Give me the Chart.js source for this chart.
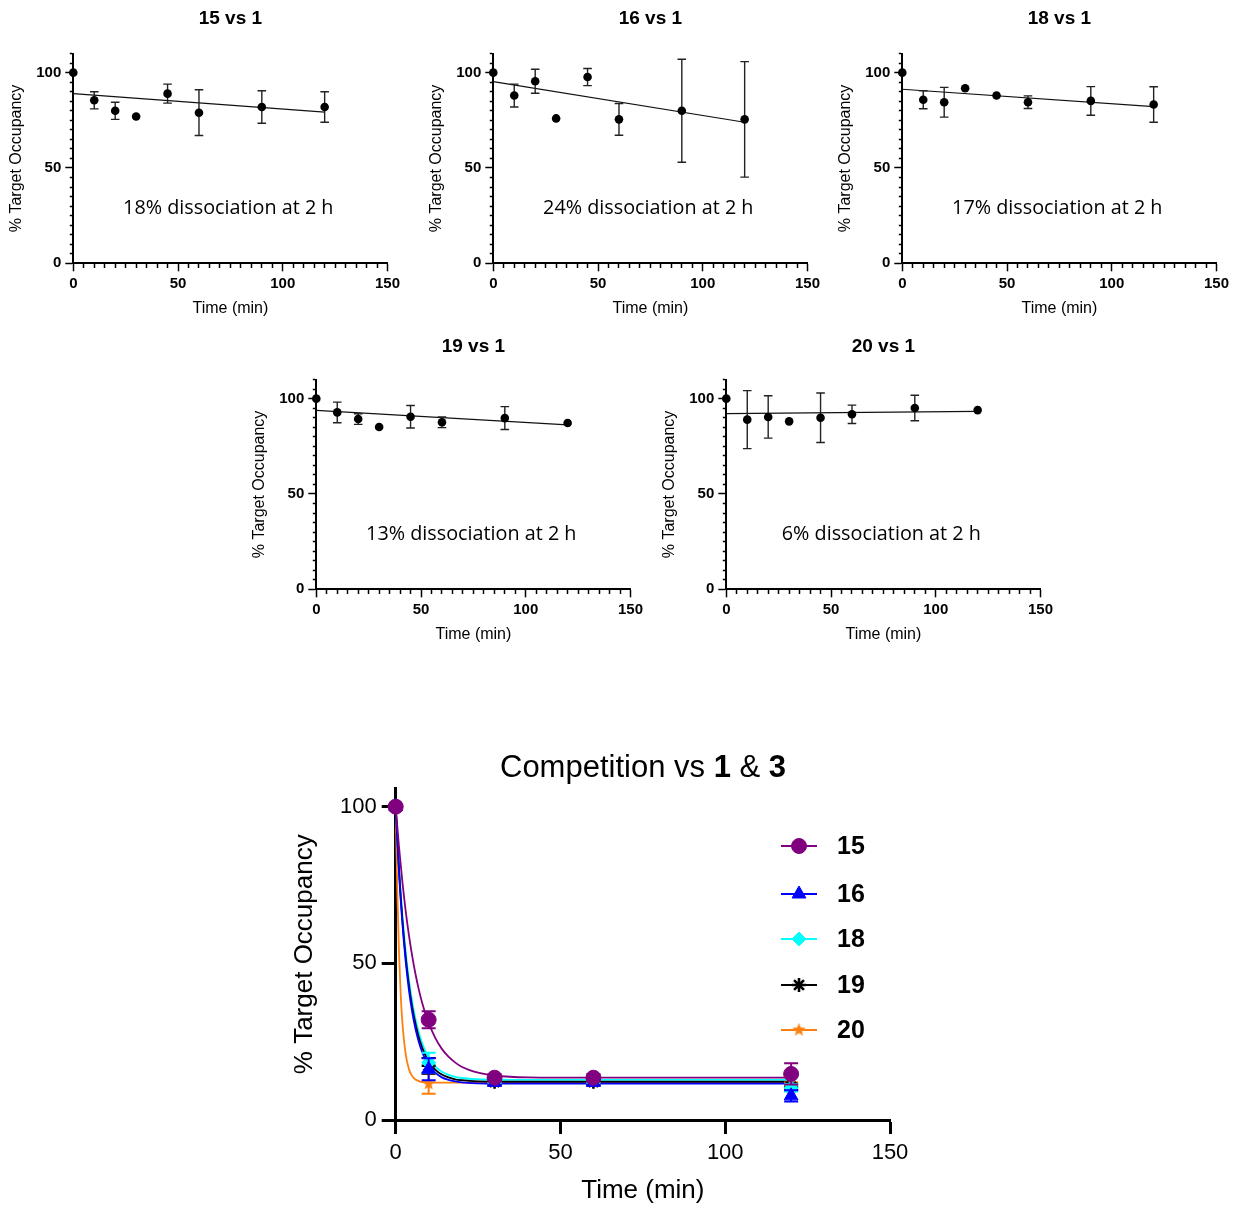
<!DOCTYPE html>
<html><head><meta charset="utf-8">
<script src="https://cdn.jsdelivr.net/npm/chart.js@4.4.1/dist/chart.umd.min.js"></script>
<style>
html,body{margin:0;padding:0;background:#fff;overflow:hidden;}
#wrap{position:relative;width:1233px;height:1206px;overflow:hidden;background:#fff;}
canvas{position:absolute;}
</style></head><body>
<div id="wrap">
<canvas id="c15" width="404" height="326" style="left:0px;top:0px"></canvas>
<canvas id="c16" width="404" height="326" style="left:420px;top:0px"></canvas>
<canvas id="c18" width="404" height="326" style="left:829px;top:0px"></canvas>
<canvas id="c19" width="404" height="326" style="left:243px;top:326px"></canvas>
<canvas id="c20" width="404" height="326" style="left:653px;top:326px"></canvas>
<canvas id="cMain" width="640" height="466" style="left:280px;top:740px"></canvas>
</div>
<script>
// ---------------- DATA ----------------
// small panels: washout vs 1
const smallTimes = [0, 10, 20, 30, 45, 60, 90, 120];
const fitTimes = [0, 120];
const xMajorTicks = [0, 50, 100, 150];
const yMajorTicks = [0, 50, 100];

const occ15 = [100, 85.5, 80, 77, 89, 79, 82, 82];
const err15 = [0, 4.5, 4.5, 0, 5, 12, 8.5, 8];
const fit15 = [89, 79.3];

const occ16 = [100, 88, 95.5, 76, 97.7, 75.5, 80, 75.5];
const err16 = [0, 6, 6.3, 0, 4.5, 8.3, 27, 30.3];
const fit16 = [95.3, 74];

const occ18 = [100, 85.8, 84.5, 91.8, 88, 84.5, 85.2, 83.3];
const err18 = [0, 4.7, 7.8, 0, 0, 3.3, 7.5, 9.3];
const fit18 = [91.3, 82.2];

const occ19 = [100, 92.8, 89.3, 85.1, 90.5, 87.6, 89.8, 87.2];
const err19 = [0, 5.4, 2.8, 0, 5.9, 2.8, 6, 0];
const fit19 = [93.9, 86.2];

const occ20 = [100, 89, 90.4, 88.1, 90, 91.8, 95.1, 94];
const err20 = [0, 15.2, 11.1, 0, 13, 4.8, 6.7, 0];
const fit20 = [92.1, 93.3];

// main panel: competition vs 1 & 3
const compTimes = [0, 10, 30, 60, 120];
const comp15 = [100, 32, 13.5, 13.5, 14.7];
const compErr15 = [0, 2.7, 1.2, 1.2, 3.4];
const comp16 = [100, 16.2, 12, 12, 7.7];
const compErr16 = [0, 3.5, 1, 1, 1.8];
const comp18 = [100, 18.3, 12.8, 12.8, 10.3];
const compErr18 = [0, 3.2, 1, 1, 1.2];
const comp19 = [100, 17.3, 12.2, 12.2, 10.6];
const compErr19 = [0, 2.5, 1, 1, 1];
const comp20 = [100, 11.6, 12, 12, 11];
const compErr20 = [0, 3.2, 1, 1, 1];

const curveTimes = [0,1,2,3,4,5,6,7,8,9,10,12,14,16,18,20,25,30,40,60,90,120];
const curve15 = [100,87.2,76.3,67.0,59.1,52.4,46.6,41.7,37.5,34.0,31.0,26.2,22.7,20.2,18.4,17.0,15.1,14.2,13.6,13.5,13.5,13.5];
const curve16 = [100,79.1,63.1,50.9,41.6,34.5,29.1,25.0,21.8,19.4,17.5,15.1,13.6,12.8,12.3,12.0,11.7,11.6,11.6,11.6,11.6,11.6];
const curve18 = [100,80.7,65.7,54.0,44.9,37.8,32.3,28.0,24.6,22.0,20.0,17.1,15.4,14.4,13.8,13.4,13.0,12.85,12.8,12.8,12.8,12.8];
const curve19 = [100,79.9,64.4,52.4,43.2,36.1,30.7,26.4,23.2,20.7,18.7,16.1,14.5,13.6,13.0,12.7,12.3,12.2,12.2,12.2,12.2,12.2];
const curve20Times = [0,0.5,1,1.5,2,3,4,5,6,7,8,10,12,20,30,60,120];
const curve20 = [100,72.4,53.5,40.5,31.6,21.2,16.3,14.0,12.9,12.4,12.1,12.0,11.9,11.9,11.9,11.9,11.9];

const compXTicks = [0, 50, 100, 150];
const compYTicks = [0, 50, 100];
const legendLabels = ['15', '16', '18', '19', '20'];
const mainTitleParts = [['Competition vs ', 'normal'], ['1', 'bold'], [' & ', 'normal'], ['3', 'bold']];

// ---------------- STYLE / HELPERS ----------------
const FONT = "'Liberation Sans', Arial, Helvetica, sans-serif";
const NOTE_FONT = "'Open Sans', 'Noto Sans', sans-serif";
Chart.defaults.color = '#000';
Chart.defaults.font.family = FONT;

const pts = (xs, ys) => xs.map((x, i) => ({x: x, y: ys[i]}));

const errorBarPlugin = {
  id: 'errorBars',
  beforeDatasetDraw(chart, args) {
    const ds = chart.data.datasets[args.index];
    if (!ds.errors) return;
    const ctx = chart.ctx, ys = chart.scales.y;
    ctx.save();
    ctx.strokeStyle = ds.errColor || '#000';
    ctx.lineWidth = ds.errWidth || 1;
    const c = ds.capHalf || 4;
    args.meta.data.forEach((el, i) => {
      const e = ds.errors[i];
      if (!e) return;
      const v = ds.data[i].y;
      const yt = ys.getPixelForValue(v + e), yb = ys.getPixelForValue(v - e);
      const x = el.x;
      ctx.beginPath();
      ctx.moveTo(x, yt); ctx.lineTo(x, yb);
      ctx.moveTo(x - c, yt); ctx.lineTo(x + c, yt);
      ctx.moveTo(x - c, yb); ctx.lineTo(x + c, yb);
      ctx.stroke();
    });
    ctx.restore();
  }
};

const panelTextPlugin = {
  id: 'panelText',
  afterDraw(chart, args, opts) {
    const ctx = chart.ctx, a = chart.chartArea;
    ctx.save();
    ctx.fillStyle = '#000';
    ctx.textAlign = 'center';
    ctx.textBaseline = 'middle';
    // panel title, centred over the plot area
    ctx.font = 'bold ' + opts.titleSize + 'px ' + FONT;
    ctx.fillText(opts.title, (a.left + a.right) / 2, a.top - opts.titleGap);
    // annotation inside the plot
    ctx.font = opts.noteSize + 'px ' + NOTE_FONT;
    ctx.fillText(opts.note, chart.scales.x.getPixelForValue(opts.noteX), chart.scales.y.getPixelForValue(opts.noteY));
    ctx.restore();
  }
};

function smallChart(id, title, occ, err, fit, note, titleGap) {
  const minorDashX = ctx => (ctx.tick && xMajorTicks.includes(ctx.tick.value)) ? [] : [4, 100];
  const minorDashY = ctx => (ctx.tick && yMajorTicks.includes(ctx.tick.value)) ? [] : [0, 4.5, 4.5, 100];
  return new Chart(document.getElementById(id), {
    type: 'scatter',
    data: {
      datasets: [
        { label: 'data', data: pts(smallTimes, occ), errors: err, errColor: '#222', errWidth: 1.4, capHalf: 4.3,
          showLine: false, pointRadius: 4.3, pointBackgroundColor: '#000', pointBorderColor: '#000', pointBorderWidth: 0, clip: false },
        { label: 'fit', data: pts(fitTimes, fit), showLine: true, pointRadius: 0, borderColor: '#111', borderWidth: 1.2, clip: false }
      ]
    },
    options: {
      responsive: false, animation: false, events: [],
      layout: { padding: { left: 0, right: 16.2, top: 53.6, bottom: 0 } },
      plugins: {
        legend: { display: false }, tooltip: { enabled: false }, title: { display: false },
        panelText: { title: title, titleSize: 19, titleGap: titleGap, note: note, noteX: 74, noteY: 29, noteSize: 19.8 }
      },
      scales: {
        x: {
          type: 'linear', min: 0, max: 150,
          afterFit(s) { s.height = 62.7; },
          ticks: { stepSize: 5, autoSkip: false, maxRotation: 0, padding: 4, color: '#000',
                   font: { family: FONT, size: 15, weight: 'bold' },
                   callback: v => xMajorTicks.includes(v) ? String(v) : '' },
          grid: { display: true, drawOnChartArea: false, drawTicks: true, tickLength: 8, tickWidth: 1.5, tickColor: '#000', tickBorderDash: minorDashX },
          border: { display: true, color: '#000', width: 2 },
          title: { display: true, text: 'Time (min)', color: '#000', font: { family: FONT, size: 16 }, padding: { top: 0, bottom: 7.4 } }
        },
        y: {
          type: 'linear', min: 0, max: 110,
          afterFit(s) { s.width = 73.3; },
          ticks: { stepSize: 5, autoSkip: false, padding: 4, color: '#000',
                   font: { family: FONT, size: 15, weight: 'bold' },
                   callback: v => yMajorTicks.includes(v) ? String(v) : '' },
          grid: { display: true, drawOnChartArea: false, drawTicks: true, tickLength: 8, tickWidth: 1.5, tickColor: '#000', tickBorderDash: minorDashY },
          border: { display: true, color: '#000', width: 2 },
          title: { display: true, text: '% Target Occupancy', color: '#000', font: { family: FONT, size: 16 }, padding: { top: 6.9, bottom: 0 } }
        }
      }
    },
    plugins: [errorBarPlugin, panelTextPlugin]
  });
}

smallChart('c15', '15 vs 1', occ15, err15, fit15, '18% dissociation at 2 h', 34.4);
smallChart('c16', '16 vs 1', occ16, err16, fit16, '24% dissociation at 2 h', 34.4);
smallChart('c18', '18 vs 1', occ18, err18, fit18, '17% dissociation at 2 h', 34.4);
smallChart('c19', '19 vs 1', occ19, err19, fit19, '13% dissociation at 2 h', 33.2);
smallChart('c20', '20 vs 1', occ20, err20, fit20, '6% dissociation at 2 h', 33.2);

// ---------------- MAIN CHART ----------------
function makeStarImage(size, color) {
  const c = document.createElement('canvas');
  c.width = size; c.height = size;
  const g = c.getContext('2d');
  const cx = size / 2, cy = size / 2, ro = size / 2 - 0.5, ri = ro * 0.42;
  g.beginPath();
  for (let i = 0; i < 10; i++) {
    const r = i % 2 === 0 ? ro : ri;
    const a = -Math.PI / 2 + i * Math.PI / 5;
    const px = cx + r * Math.cos(a), py = cy + r * Math.sin(a);
    if (i === 0) g.moveTo(px, py); else g.lineTo(px, py);
  }
  g.closePath();
  g.fillStyle = color;
  g.fill();
  return c;
}
const orangeStar = makeStarImage(15, '#FF7F0E');

const seriesStyles = [
  { color: '#800080', style: 'circle', r: 7.5, bw: 1 },
  { color: '#0000FF', style: 'triangle', r: 8, bw: 1 },
  { color: '#00FFFF', style: 'rectRot', r: 7, bw: 1 },
  { color: '#000000', style: 'star', r: 7, bw: 2.6 },
  { color: '#FF7F0E', style: orangeStar, r: 7, bw: 1 }
];
const compVals = [comp15, comp16, comp18, comp19, comp20];
const compErrs = [compErr15, compErr16, compErr18, compErr19, compErr20];

const markerSets = legendLabels.map((lab, i) => ({
  label: lab, data: pts(compTimes, compVals[i]), errors: compErrs[i],
  errColor: seriesStyles[i].color, errWidth: 2, capHalf: 7,
  showLine: false, pointStyle: seriesStyles[i].style, pointRadius: seriesStyles[i].r,
  pointBackgroundColor: seriesStyles[i].color, pointBorderColor: seriesStyles[i].color,
  pointBorderWidth: seriesStyles[i].bw, clip: false
}));
const curveDefs = [
  [curveTimes, curve15, 0], [curveTimes, curve16, 1], [curveTimes, curve19, 3], [curveTimes, curve18, 2], [curve20Times, curve20, 4]
];
const curveSets = curveDefs.map(d => ({
  label: 'fit ' + legendLabels[d[2]], data: pts(d[0], d[1]), showLine: true, pointRadius: 0,
  borderColor: seriesStyles[d[2]].color, borderWidth: 1.8, cubicInterpolationMode: 'monotone', clip: false
}));

const mainTitlePlugin = {
  id: 'mainTitle',
  afterDraw(chart, args, opts) {
    const ctx = chart.ctx;
    ctx.save();
    ctx.fillStyle = '#000';
    ctx.textBaseline = 'middle';
    ctx.textAlign = 'left';
    const fonts = mainTitleParts.map(p => (p[1] === 'bold' ? 'bold ' : '') + opts.size + 'px ' + FONT);
    let total = 0;
    mainTitleParts.forEach((p, i) => { ctx.font = fonts[i]; total += ctx.measureText(p[0]).width; });
    let x = opts.cx - total / 2;
    mainTitleParts.forEach((p, i) => { ctx.font = fonts[i]; ctx.fillText(p[0], x, opts.cy); x += ctx.measureText(p[0]).width; });
    ctx.restore();
  }
};

const lineLegendPlugin = {
  id: 'lineLegend',
  afterDraw(chart, args, opts) {
    const ctx = chart.ctx;
    const H = Chart.helpers;
    ctx.save();
    legendLabels.forEach((lab, i) => {
      const st = seriesStyles[i];
      const y = opts.y0 + opts.dy[i];
      ctx.strokeStyle = st.color; ctx.fillStyle = st.color; ctx.lineWidth = 2;
      ctx.beginPath(); ctx.moveTo(opts.x1, y); ctx.lineTo(opts.x2, y); ctx.stroke();
      ctx.lineWidth = st.bw;
      if (H && H.drawPoint) {
        H.drawPoint(ctx, { pointStyle: st.style, radius: st.r, borderWidth: st.bw, rotation: 0 }, (opts.x1 + opts.x2) / 2, y);
      }
      ctx.fillStyle = '#000';
      ctx.font = 'bold ' + opts.size + 'px ' + FONT;
      ctx.textAlign = 'left'; ctx.textBaseline = 'middle';
      ctx.fillText(lab, opts.tx, y + 1);
    });
    ctx.restore();
  }
};

new Chart(document.getElementById('cMain'), {
  type: 'scatter',
  data: { datasets: markerSets.concat(curveSets) },
  options: {
    responsive: false, animation: false, events: [],
    layout: { padding: { left: 0, right: 30, top: 48.5, bottom: 0 } },
    plugins: {
      legend: { display: false }, tooltip: { enabled: false },
      mainTitle: { cx: 363, cy: 28, size: 31 },
      lineLegend: { x1: 501, x2: 537, tx: 557, y0: 106, dy: [0, 48, 93, 139, 184], size: 25 }
    },
    scales: {
      x: {
        type: 'linear', min: 0, max: 150,
        afterFit(s) { s.height = 86; },
        afterBuildTicks(s) { s.ticks = compXTicks.map(v => ({ value: v })); },
        ticks: { autoSkip: false, maxRotation: 0, padding: 6, color: '#000', font: { family: FONT, size: 22 } },
        grid: { display: true, drawOnChartArea: false, drawTicks: true, tickLength: 14, tickWidth: 3, tickColor: '#000' },
        border: { display: true, color: '#000', width: 3 },
        title: { display: true, text: 'Time (min)', color: '#000', font: { family: FONT, size: 26 }, padding: { top: 0, bottom: 0 } }
      },
      y: {
        type: 'linear', min: 0, max: 105.8,
        afterFit(s) { s.width = 115.7; },
        afterBuildTicks(s) { s.ticks = compYTicks.map(v => ({ value: v })); },
        ticks: { autoSkip: false, padding: 5, color: '#000', font: { family: FONT, size: 22 } },
        grid: { display: true, drawOnChartArea: false, drawTicks: true, tickLength: 14, tickWidth: 3, tickColor: '#000' },
        border: { display: true, color: '#000', width: 3 },
        title: { display: true, text: '% Target Occupancy', color: '#000', font: { family: FONT, size: 26 }, padding: { top: 9.4, bottom: 0 } }
      }
    }
  },
  plugins: [errorBarPlugin, mainTitlePlugin, lineLegendPlugin]
});
</script>
</body></html>
